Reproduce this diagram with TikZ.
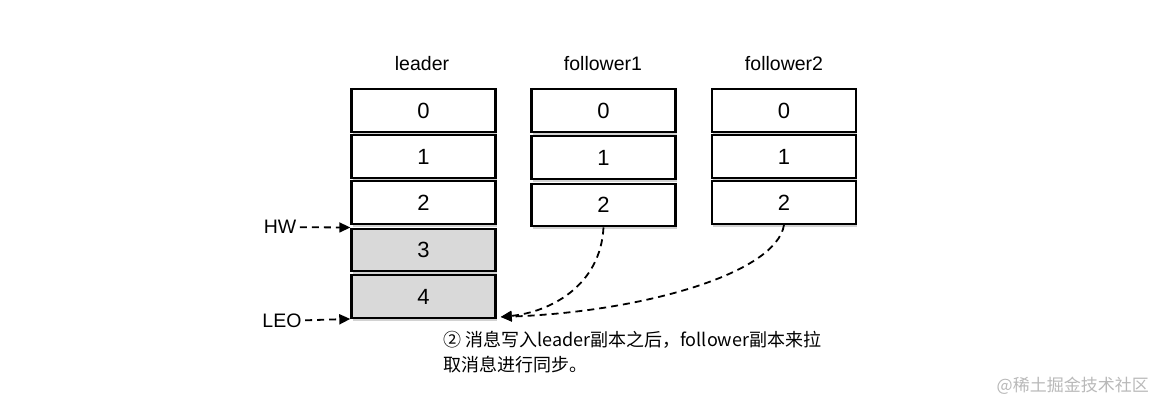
\documentclass[tikz,border=0pt]{standalone}
\usepackage{fontspec}
\setmainfont{Liberation Sans}
\newfontfamily\cjk{Noto Sans CJK SC}
\usepackage{xcolor}
\usetikzlibrary{calc,arrows.meta,shadows,positioning}

\definecolor{newgray}{RGB}{217,217,217}

\begin{document}
\begin{tikzpicture}[x=1pt,y=-1pt,
  slot/.style={draw,line width=2.4pt,fill=white,minimum width=144pt,minimum height=42.5pt,inner sep=0pt,
    font=\fontsize{22}{26}\selectfont,
    drop shadow={shadow xshift=1pt,shadow yshift=-3pt,opacity=0.35}},
  newslot/.style={slot,fill=newgray},
  title/.style={font=\fontsize{19.5}{22}\selectfont},
  pointer/.style={dashed,dash pattern=on 7pt off 5pt,line width=1.8pt,-{Triangle[length=11pt,width=10pt]}}]

\fill[white] (0,0) rectangle (1160,412);
\useasboundingbox (0,0) rectangle (1160,412);

% titles
\draw (422,64) node[title] (tl) {leader};
\draw (603,64) node[title] (tf1) {follower1};
\draw (784,64) node[title] (tf2) {follower2};

% leader
\node[slot] (l0) at (423.5,110.5) {0};
\node[slot] (l1) at (423.5,156.5) {1};
\node[slot] (l2) at (423.5,202.5) {2};
\node[newslot] (l3) at (423.5,250) {3};
\node[newslot] (l4) at (423.5,296.5) {4};

% follower1
\node[slot] (f10) at (603.5,110.5) {0};
\node[slot] (f11) at (603.5,157.5) {1};
\node[slot] (f12) at (603.5,205) {2};

% follower2
\node[slot] (f20) at (784,110.5) {0};
\node[slot] (f21) at (784,156.5) {1};
\node[slot] (f22) at (784,202.5) {2};

% HW and LEO
\draw (280,227) node[title] (hw) {HW};
\draw (282,321) node[title] (leo) {LEO};
\draw[pointer] (hw) -- (l3.north west);
\draw[pointer] (leo) -- (l4.south west);

% fetch
\coordinate (tip) at ([xshift=4pt,yshift=2pt]l4.south east);
\draw[pointer] (f12.south) .. controls +(-3,58) and +(50,-5) .. (tip);
\draw[pointer] (f22.south) .. controls +(-8,49) and +(140,-5) .. (tip);

% note
\node[anchor=north west,align=left,inner sep=0pt,font=\cjk\fontsize{18}{25}\selectfont] (note) at (443,331)
  {② 消息写入leader副本之后，follower副本来拉\\取消息进行同步。};

\node[anchor=east,inner sep=0pt,text=gray!55,font=\cjk\fontsize{17}{20}\selectfont] (mark) at (1149,386) {@稀土掘金技术社区};
\end{tikzpicture}
\end{document}
